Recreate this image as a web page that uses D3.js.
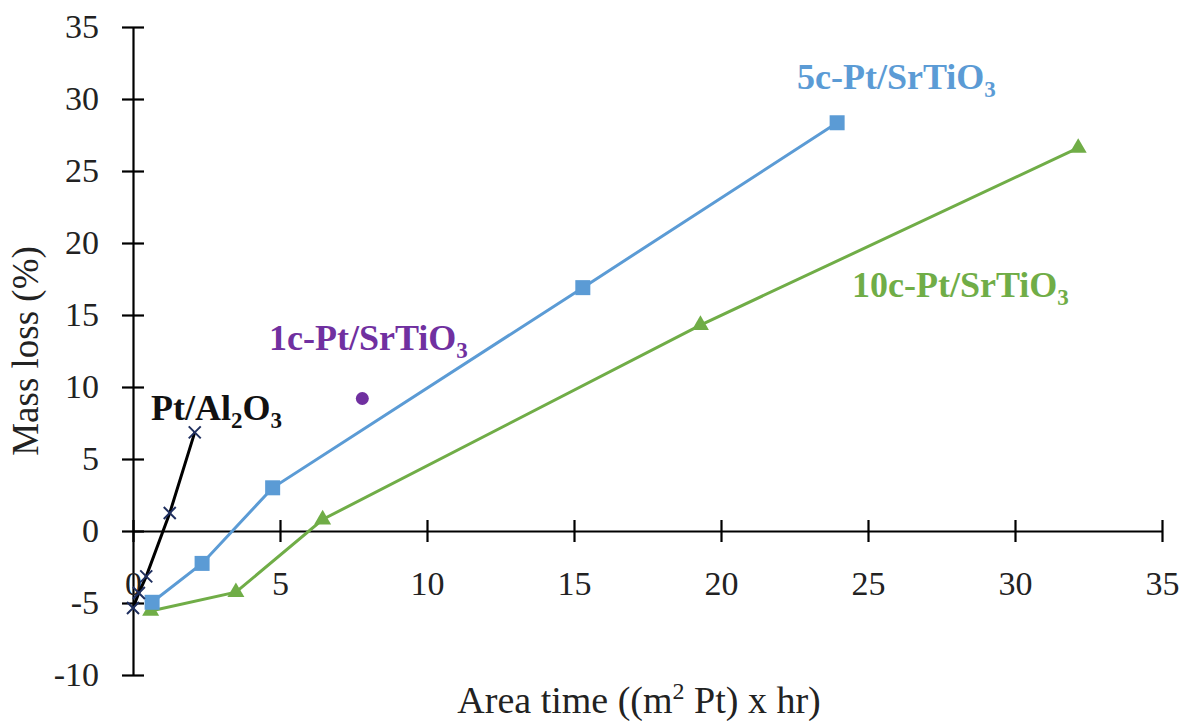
<!DOCTYPE html>
<html><head><meta charset="utf-8">
<script src="https://cdn.jsdelivr.net/npm/d3@7"></script>
<style>body{margin:0;background:#fff}svg{display:block}svg text{font-family:'Liberation Serif','Times New Roman',serif}</style>
</head><body>
<svg id="c" width="1181" height="721"></svg>
<script>
// Data
const s5cX = [0.65, 2.35, 4.75, 15.3, 23.95];
const s5cY = [-4.95, -2.25, 3.0, 16.9, 28.35];
const s10cX = [0.6, 3.5, 6.45, 19.3, 32.15];
const s10cY = [-5.55, -4.25, 0.8, 14.3, 26.6];
const alX = [0.0, 0.2, 0.45, 1.25, 2.1];
const alY = [-5.35, -4.3, -3.15, 1.25, 6.85];
const s1cX = [7.8];
const s1cY = [9.2];
const xTicks = [0, 5, 10, 15, 20, 25, 30, 35];
const yTicks = [-10, -5, 0, 5, 10, 15, 20, 25, 30, 35];

const svg = d3.select("#c");
const x = d3.scaleLinear().domain([0, 35]).range([133, 1162]);
const y = d3.scaleLinear().domain([-10, 35]).range([675, 27]);
const fmt = d => String(d);

// axes
const yAx = svg.append("g").attr("transform", `translate(${x(0)},0)`)
  .call(d3.axisLeft(y).tickValues(yTicks).tickFormat(fmt).tickSizeInner(11).tickSizeOuter(0).tickPadding(23));
yAx.selectAll(".tick line").attr("x1", -11).attr("x2", 11);
const xAx = svg.append("g").attr("transform", `translate(0,${y(0)})`)
  .call(d3.axisBottom(x).tickValues(xTicks).tickFormat(fmt).tickSizeInner(11).tickSizeOuter(0).tickPadding(29));
xAx.selectAll(".tick line").attr("y1", -11).attr("y2", 11);
svg.selectAll(".domain, .tick line").attr("stroke", "#000").attr("stroke-width", 2.2);
svg.selectAll("g").attr("font-family", null);
svg.selectAll(".tick text").attr("font-size", 34).attr("fill", "#222");

// axis titles
const xt = svg.append("text").attr("x", 639).attr("y", 713).attr("text-anchor", "middle")
  .attr("font-size", 38).attr("fill", "#222");
xt.append("tspan").text("Area time ((m");
xt.append("tspan").attr("font-size", 24).attr("dy", -14).text("2");
xt.append("tspan").attr("dy", 14).text(" Pt) x hr)");
svg.append("text").attr("transform", "translate(38,351) rotate(-90)").attr("text-anchor", "middle")
  .attr("font-size", 37).attr("fill", "#222").text("Mass loss (%)");

const line = d3.line().x(d => x(d[0])).y(d => y(d[1]));
function pts(xs, ys) { return xs.map((v, i) => [v, ys[i]]); }

// 10c green
const g10 = pts(s10cX, s10cY);
svg.append("path").datum(g10).attr("d", line).attr("fill", "none").attr("stroke", "#70AD47").attr("stroke-width", 3);
svg.selectAll(".tri").data(g10).enter().append("path")
  .attr("transform", d => `translate(${x(d[0])},${y(d[1])})`)
  .attr("d", d3.symbol(d3.symbolTriangle, 125)).attr("fill", "#70AD47");

// 5c blue
const g5 = pts(s5cX, s5cY);
svg.append("path").datum(g5).attr("d", line).attr("fill", "none").attr("stroke", "#5B9BD5").attr("stroke-width", 3);
svg.selectAll(".sq").data(g5).enter().append("rect")
  .attr("x", d => x(d[0]) - 7.5).attr("y", d => y(d[1]) - 7.5).attr("width", 15).attr("height", 15).attr("fill", "#5B9BD5");

// Pt/Al2O3
const gal = pts(alX, alY);
svg.append("path").datum(gal).attr("d", line).attr("fill", "none").attr("stroke", "#000").attr("stroke-width", 3);
svg.selectAll(".xm").data(gal).enter().append("path")
  .attr("transform", d => `translate(${x(d[0])},${y(d[1])})`)
  .attr("d", "M-6,-6L6,6M-6,6L6,-6").attr("stroke", "#1F2F5F").attr("stroke-width", 2);

// 1c purple
svg.selectAll(".dot").data(pts(s1cX, s1cY)).enter().append("circle")
  .attr("cx", d => x(d[0])).attr("cy", d => y(d[1])).attr("r", 6.5).attr("fill", "#7030A0");

// labels
function lab(tx, ty, main, sub, tail, color) {
  const t = svg.append("text").attr("x", tx).attr("y", ty)
    .attr("font-weight", "bold").attr("font-size", 36).attr("fill", color);
  t.append("tspan").text(main);
  t.append("tspan").attr("font-size", 23).attr("dy", 8).text(sub);
  if (tail) { t.append("tspan").attr("dy", -8).text(tail.t); t.append("tspan").attr("font-size", 23).attr("dy", 8).text(tail.s); }
}
lab(797, 89, "5c-Pt/SrTiO", "3", null, "#5B9BD5");
lab(852, 297, "10c-Pt/SrTiO", "3", null, "#70AD47");
lab(269, 350, "1c-Pt/SrTiO", "3", null, "#7030A0");
lab(151, 420, "Pt/Al", "2", {t: "O", s: "3"}, "#111");
</script>
</body></html>
